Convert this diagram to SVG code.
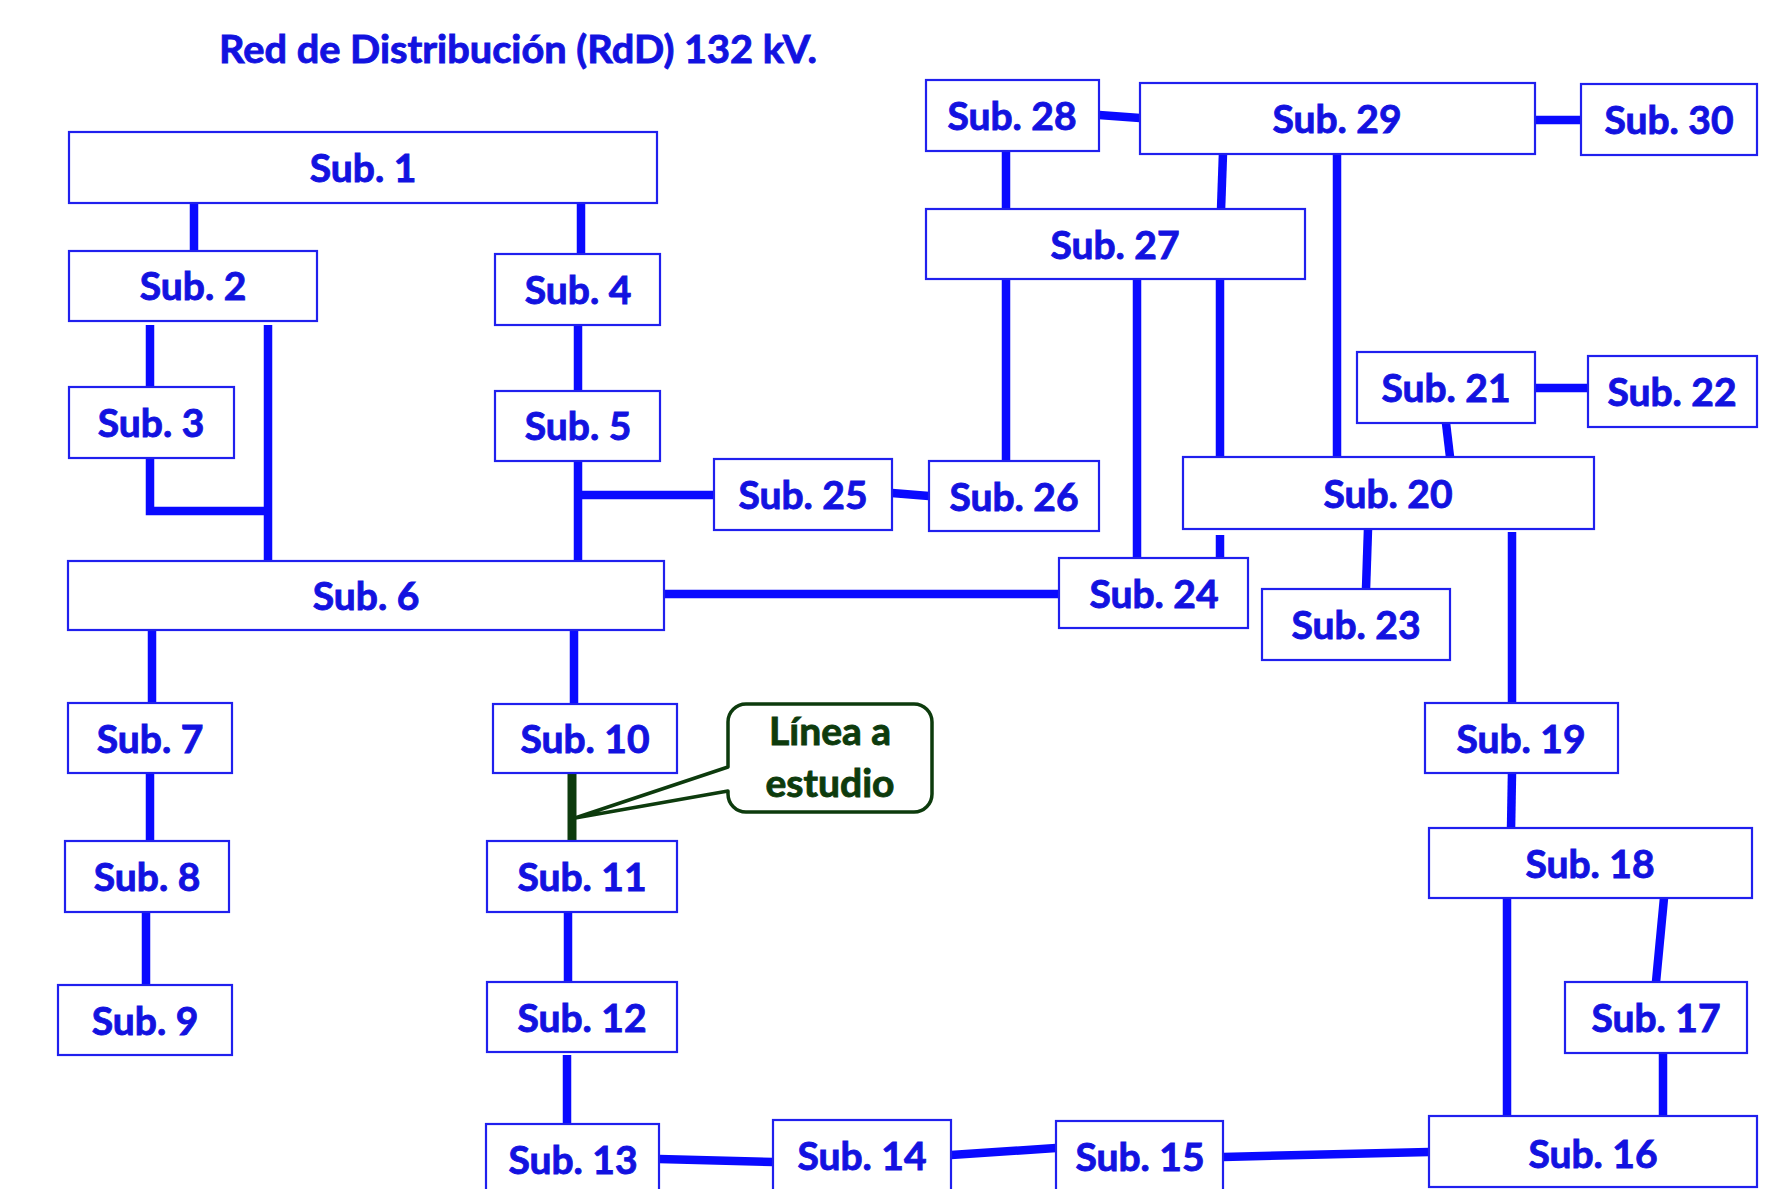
<svg xmlns="http://www.w3.org/2000/svg" width="1781" height="1189" viewBox="0 0 1781 1189">
  <style>
    .box { fill: #ffffff; stroke: #2020ee; stroke-width: 2.2; }
    .lbl { font-family: Lato, "Open Sans", "Liberation Sans", sans-serif; font-weight: 700; font-size: 39px; fill: #1212e0; stroke: #1212e0; stroke-width: 0.9; text-anchor: middle; }
    .ttl { font-family: Lato, "Open Sans", "Liberation Sans", sans-serif; font-weight: 700; font-size: 39px; fill: #1212e0; stroke: #1212e0; stroke-width: 0.9; }
    .ln { fill: none; stroke: #0a0aff; stroke-width: 8.5; stroke-linejoin: miter; }
    .study { fill: none; stroke: #0d3b0d; stroke-width: 9; }
    .callout { fill: #ffffff; stroke: #0d3b0d; stroke-width: 3.5; stroke-linejoin: round; }
    .ctext { font-family: Lato, "Open Sans", "Liberation Sans", sans-serif; font-weight: 700; font-size: 39px; fill: #0d3b0d; stroke: #0d3b0d; stroke-width: 0.9; text-anchor: middle; }
  </style>
  <rect width="1781" height="1189" fill="#ffffff"/>

  <text class="ttl" x="219" y="63" textLength="598" lengthAdjust="spacingAndGlyphs">Red de Distribución (RdD) 132 kV.</text>

  <!-- 132 kV lines between substations -->
  <g id="connectors">
    <line class="ln" x1="194" y1="203" x2="194" y2="251"/>
    <line class="ln" x1="581" y1="203" x2="581" y2="254"/>
    <line class="ln" x1="150" y1="325" x2="150" y2="387"/>
    <line class="ln" x1="268" y1="325" x2="268" y2="561"/>
    <polyline class="ln" points="150,459 150,511 268,511"/>
    <line class="ln" x1="578" y1="325" x2="578" y2="391"/>
    <line class="ln" x1="578" y1="461" x2="578" y2="561"/>
    <line class="ln" x1="578" y1="495" x2="714" y2="495"/>
    <line class="ln" x1="892" y1="493" x2="929" y2="496"/>
    <line class="ln" x1="664" y1="594" x2="1059" y2="594"/>
    <line class="ln" x1="152" y1="630" x2="152" y2="703"/>
    <line class="ln" x1="574" y1="630" x2="574" y2="704"/>
    <line class="ln" x1="150" y1="773" x2="150" y2="841"/>
    <line class="ln" x1="146" y1="912" x2="146" y2="985"/>
    <line class="ln" x1="568" y1="912" x2="568" y2="982"/>
    <line class="ln" x1="567" y1="1055" x2="567" y2="1127"/>
    <line class="ln" x1="659" y1="1159" x2="773" y2="1162"/>
    <line class="ln" x1="951" y1="1155" x2="1056" y2="1148"/>
    <line class="ln" x1="1223" y1="1157" x2="1429" y2="1152"/>
    <line class="ln" x1="1507" y1="898" x2="1507" y2="1119"/>
    <line class="ln" x1="1663" y1="1053" x2="1663" y2="1119"/>
    <line class="ln" x1="1664" y1="898" x2="1656" y2="982"/>
    <line class="ln" x1="1512" y1="773" x2="1511" y2="830"/>
    <line class="ln" x1="1512" y1="532" x2="1512" y2="703"/>
    <line class="ln" x1="1368" y1="529" x2="1366" y2="589"/>
    <line class="ln" x1="1220" y1="535" x2="1220" y2="558"/>
    <line class="ln" x1="1446" y1="423" x2="1450" y2="457"/>
    <line class="ln" x1="1535" y1="388" x2="1588" y2="388"/>
    <line class="ln" x1="1220" y1="274" x2="1220" y2="458"/>
    <line class="ln" x1="1337" y1="151" x2="1337" y2="458"/>
    <line class="ln" x1="1137" y1="279" x2="1137" y2="558"/>
    <line class="ln" x1="1006" y1="279" x2="1006" y2="463"/>
    <line class="ln" x1="1006" y1="147" x2="1006" y2="209"/>
    <line class="ln" x1="1223" y1="153" x2="1221" y2="210"/>
    <line class="ln" x1="1099" y1="115" x2="1140" y2="118"/>
    <line class="ln" x1="1535" y1="120" x2="1581" y2="120"/>
    <!-- line under study, Sub. 10 - Sub. 11 -->
    <line class="study" x1="572" y1="773" x2="572" y2="845"/>
  </g>

  <g id="sub1"><rect class="box" x="69" y="132" width="588" height="71"/><text class="lbl" x="363" y="182">Sub. 1</text></g>
  <g id="sub2"><rect class="box" x="69" y="251" width="248" height="70"/><text class="lbl" x="193" y="300">Sub. 2</text></g>
  <g id="sub3"><rect class="box" x="69" y="387" width="165" height="71"/><text class="lbl" x="151" y="437">Sub. 3</text></g>
  <g id="sub4"><rect class="box" x="495" y="254" width="165" height="71"/><text class="lbl" x="578" y="304">Sub. 4</text></g>
  <g id="sub5"><rect class="box" x="495" y="391" width="165" height="70"/><text class="lbl" x="578" y="440">Sub. 5</text></g>
  <g id="sub6"><rect class="box" x="68" y="561" width="596" height="69"/><text class="lbl" x="366" y="610">Sub. 6</text></g>
  <g id="sub7"><rect class="box" x="68" y="703" width="164" height="70"/><text class="lbl" x="150" y="753">Sub. 7</text></g>
  <g id="sub8"><rect class="box" x="65" y="841" width="164" height="71"/><text class="lbl" x="147" y="891">Sub. 8</text></g>
  <g id="sub9"><rect class="box" x="58" y="985" width="174" height="70"/><text class="lbl" x="145" y="1035">Sub. 9</text></g>
  <g id="sub10"><rect class="box" x="493" y="704" width="184" height="69"/><text class="lbl" x="585" y="753">Sub. 10</text></g>
  <g id="sub11"><rect class="box" x="487" y="841" width="190" height="71"/><text class="lbl" x="582" y="891">Sub. 11</text></g>
  <g id="sub12"><rect class="box" x="487" y="982" width="190" height="70"/><text class="lbl" x="582" y="1032">Sub. 12</text></g>
  <g id="sub13"><rect class="box" x="486" y="1124" width="173" height="71"/><text class="lbl" x="573" y="1174">Sub. 13</text></g>
  <g id="sub14"><rect class="box" x="773" y="1120" width="178" height="71"/><text class="lbl" x="862" y="1170">Sub. 14</text></g>
  <g id="sub15"><rect class="box" x="1056" y="1121" width="167" height="71"/><text class="lbl" x="1140" y="1171">Sub. 15</text></g>
  <g id="sub16"><rect class="box" x="1429" y="1116" width="328" height="71"/><text class="lbl" x="1593" y="1168">Sub. 16</text></g>
  <g id="sub17"><rect class="box" x="1565" y="982" width="182" height="71"/><text class="lbl" x="1656" y="1032">Sub. 17</text></g>
  <g id="sub18"><rect class="box" x="1429" y="828" width="323" height="70"/><text class="lbl" x="1590" y="878">Sub. 18</text></g>
  <g id="sub19"><rect class="box" x="1425" y="703" width="193" height="70"/><text class="lbl" x="1521" y="753">Sub. 19</text></g>
  <g id="sub20"><rect class="box" x="1183" y="457" width="411" height="72"/><text class="lbl" x="1388" y="508">Sub. 20</text></g>
  <g id="sub21"><rect class="box" x="1357" y="352" width="178" height="71"/><text class="lbl" x="1446" y="402">Sub. 21</text></g>
  <g id="sub22"><rect class="box" x="1588" y="356" width="169" height="71"/><text class="lbl" x="1672" y="406">Sub. 22</text></g>
  <g id="sub23"><rect class="box" x="1262" y="589" width="188" height="71"/><text class="lbl" x="1356" y="639">Sub. 23</text></g>
  <g id="sub24"><rect class="box" x="1059" y="558" width="189" height="70"/><text class="lbl" x="1154" y="608">Sub. 24</text></g>
  <g id="sub25"><rect class="box" x="714" y="459" width="178" height="71"/><text class="lbl" x="803" y="509">Sub. 25</text></g>
  <g id="sub26"><rect class="box" x="929" y="461" width="170" height="70"/><text class="lbl" x="1014" y="511">Sub. 26</text></g>
  <g id="sub27"><rect class="box" x="926" y="209" width="379" height="70"/><text class="lbl" x="1115" y="259">Sub. 27</text></g>
  <g id="sub28"><rect class="box" x="926" y="80" width="173" height="71"/><text class="lbl" x="1012" y="130">Sub. 28</text></g>
  <g id="sub29"><rect class="box" x="1140" y="83" width="395" height="71"/><text class="lbl" x="1337" y="133">Sub. 29</text></g>
  <g id="sub30"><rect class="box" x="1581" y="84" width="176" height="71"/><text class="lbl" x="1669" y="134">Sub. 30</text></g>

  <!-- note pointing at the line under study -->
  <g id="callout">
    <path class="callout" d="M 746,704 H 914 A 18 18 0 0 1 932,722 V 794 A 18 18 0 0 1 914,812 H 746 A 18 18 0 0 1 728,794 V 791 L 575,818 L 728,767 V 722 A 18 18 0 0 1 746,704 Z"/>
    <text class="ctext" x="830" y="745">Línea a</text>
    <text class="ctext" x="830" y="797">estudio</text>
  </g>
</svg>
